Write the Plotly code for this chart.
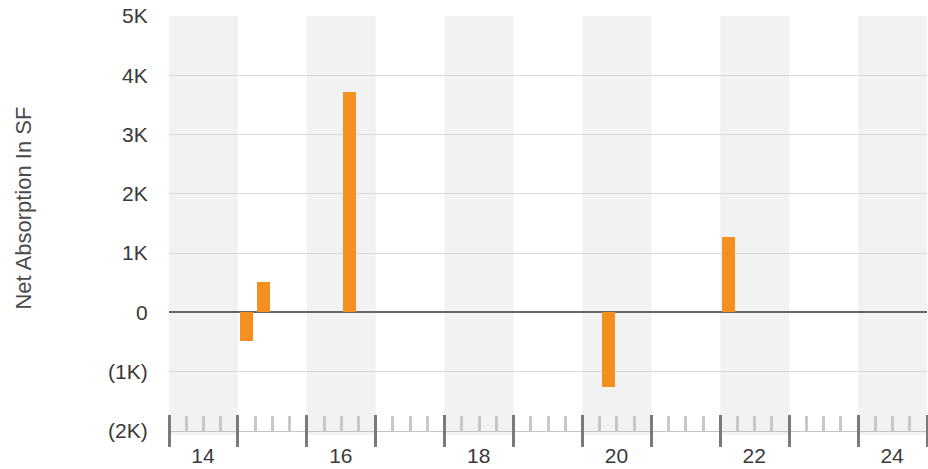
import plotly.graph_objects as go

# ---- data ----
years = list(range(2014, 2025))
year_labels = ["14", "16", "18", "20", "22", "24"]
quarters = [1, 2, 3, 4]
# net absorption (SF) per quarter, 2014Q1 .. 2024Q4
net_absorption = [
    0, 0, 0, 0,        # 2014
    -490, 510, 0, 0,   # 2015
    0, 0, 3720, 0,     # 2016
    0, 0, 0, 0,        # 2017
    0, 0, 0, 0,        # 2018
    0, 0, 0, 0,        # 2019
    0, -1260, 0, 0,    # 2020
    0, 0, 0, 0,        # 2021
    1270, 0, 0, 0,     # 2022
    0, 0, 0, 0,        # 2023
    0, 0, 0, 0,        # 2024
]
y_tickvals = [-2000, -1000, 0, 1000, 2000, 3000, 4000, 5000]
y_ticktext = ["(2K)", "(1K)", "0", "1K", "2K", "3K", "4K", "5K"]

x_pos = [y + (q - 0.5) / 4 for y in years for q in quarters]

font_family = "Liberation Sans, Arial, Helvetica, sans-serif"
x0, x1 = years[0], years[-1] + 1
boundaries = years + [x1]
# label every other year, placed at year boundary and shifted to the year centre
boundary_text = []
for b in boundaries:
    boundary_text.append(year_labels[(b - x0) // 2] if (b - x0) % 2 == 0 and b < x1 else "")
minor_vals = [y + q / 4 for y in years for q in (1, 2, 3)]

fig = go.Figure()
fig.add_trace(go.Bar(
    x=x_pos, y=net_absorption, width=0.19,
    marker=dict(color="#F39020", line=dict(width=0)),
    showlegend=False, hoverinfo="x+y",
))

# shaded bands for alternating years
shapes = []
for y in years[::2]:
    shapes.append(dict(type="rect", xref="x", yref="paper", x0=y, x1=y + 1,
                       y0=-0.0095, y1=1, fillcolor="#f2f2f2", line=dict(width=0),
                       layer="below"))
fig.update_layout(shapes=shapes)

plot_w = 928 - 169 - 1
plot_h = 469 - 16 - 38
half_year_px = int(round(plot_w / (x1 - x0) / 2))
major_up_px = 17

fig.update_layout(
    width=928, height=469,
    margin=dict(l=169, r=1, t=16, b=38),
    paper_bgcolor="white", plot_bgcolor="rgba(0,0,0,0)",
    font=dict(family=font_family, size=21, color="#3a3a3a"),
    bargap=0,
    xaxis=dict(
        range=[x0, x1], tickvals=boundaries, ticktext=boundary_text,
        ticks="outside", ticklen=1, tickwidth=1, tickcolor="rgba(0,0,0,0)",
        ticklabelshift=half_year_px, ticklabelstandoff=5,
        minor=dict(tickvals=minor_vals, ticks="inside", ticklen=15, tickwidth=3,
                   tickcolor="#c8c8c8", showgrid=False),
        showgrid=False, zeroline=False, showline=True, linecolor="#c4c4c4", linewidth=1,
        automargin=False, tickfont=dict(size=21, color="#3a3a3a"),
    ),
    xaxis2=dict(
        overlaying="x", anchor="free", position=major_up_px / plot_h,
        range=[x0, x1], tickvals=boundaries, showticklabels=False,
        ticks="outside", ticklen=major_up_px + 15, tickwidth=3, tickcolor="#7a7a7a",
        showgrid=False, zeroline=False, showline=False, automargin=False,
    ),
    yaxis=dict(
        range=[-2000, 5000], tickvals=y_tickvals, ticktext=y_ticktext,
        ticks="outside", ticklen=16, tickcolor="rgba(0,0,0,0)",
        showgrid=True, gridcolor="#d9d9d9", gridwidth=1,
        zeroline=True, zerolinecolor="#666", zerolinewidth=2,
        showline=False, automargin=False, tickfont=dict(size=21, color="#3a3a3a"),
    ),
    annotations=[dict(
        text="Net Absorption In SF", xref="paper", yref="paper",
        x=-0.192, y=0.537, xanchor="center", yanchor="middle", textangle=-90,
        showarrow=False, font=dict(size=22, color="#4a4a4a", family=font_family),
    )],
)
# invisible anchor trace so the overlay axis renders
fig.add_trace(go.Scatter(x=[x0], y=[0], xaxis="x2", mode="markers",
                         marker=dict(opacity=0), showlegend=False, hoverinfo="skip"))

fig.write_html("out.html", config={"displayModeBar": False},
               post_script="document.body.style.margin='0';document.body.style.overflow='hidden';")
